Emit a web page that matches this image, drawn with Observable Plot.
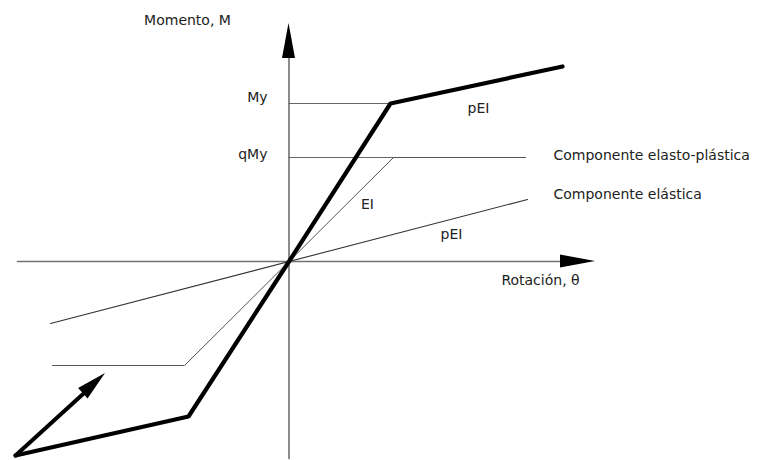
<!DOCTYPE html>
<html><head><meta charset="utf-8">
<script src="https://cdn.jsdelivr.net/npm/d3@7"></script>
<script src="https://cdn.jsdelivr.net/npm/@observablehq/plot@0.6"></script>
<style>body{margin:0;background:#fff}</style>
</head><body><div id="chart"></div>
<script>
// ---- data (rotation θ, moment M; origin at 0,0) ----
const totalTheta = [-273.5, -100.5, 0, 101.5, 273.5];
const totalMoment = [-194, -155, 0, 158, 195];
const elastoTheta = [-236.5, -104.5, 0, 104.5, 236.5];
const elastoMoment = [-104, -104, 0, 104, 104];
const elasticTheta = [-238.5, 238.5];
const elasticMoment = [-62, 62];
const myTheta = [0, 101.5];
const myMoment = [158, 158];
const qmyTheta = [0, 236.5];
const qmyMoment = [104, 104];
const axisNames = ["x", "y"];
const axisFrom = [[-271.5, 0], [0, -197]];
const axisTo = [[306.5, 0], [0, 238]];
const loadFrom = [-273.5, -194];
const loadTo = [-183.5, -112];

const labelText = ["Momento, M", "My", "qMy", "pEI", "EI", "pEI", "Rotación, θ", "Componente elasto-plástica", "Componente elástica"];
const labelTheta = [-101.5, -21.5, -21.5, 189.5, 78.5, 162.5, 251.5, 264.5, 264.5];
const labelMoment = [241, 164, 107, 153, 57, 27, -19, 106, 67];
const labelAnchor = ["middle", "end", "end", "middle", "middle", "middle", "middle", "start", "start"];

// ---- build tables ----
const pts = (xs, ys) => xs.map((x, i) => ({x, y: ys[i]}));
function head(id, from, to, len, half) {
  const dx = to[0] - from[0], dy = to[1] - from[1];
  const d = Math.hypot(dx, dy), ux = dx / d, uy = dy / d;
  const bx = to[0] - ux * len, by = to[1] - uy * len;
  const nx = -uy, ny = ux;
  return {
    shaft: [{id, x: from[0], y: from[1]}, {id, x: bx, y: by}],
    tri: [
      {id, x1: bx + nx * half, y1: by + ny * half, x2: bx - nx * half, y2: by - ny * half},
      {id, x1: to[0], y1: to[1], x2: to[0], y2: to[1]}
    ]
  };
}
const axisHeads = axisNames.map((n, i) => head(n, axisFrom[i], axisTo[i], 35, 6.5));
const loadHead = head("load", loadFrom, loadTo, 30, 7);
const labels = labelText.map((t, i) => ({t, x: labelTheta[i], y: labelMoment[i], a: labelAnchor[i]}));

const font = {fontFamily: "DejaVu Sans", fontSize: 14, fill: "#222"};
const textMark = a => Plot.text(labels.filter(d => d.a === a), {x: "x", y: "y", text: "t", textAnchor: a, ...font});

const chart = Plot.plot({
  width: 761, height: 460,
  margin: 0,
  x: {domain: [-288.5, 472.5], axis: null},
  y: {domain: [-199, 261], axis: null},
  style: {background: "#fff"},
  marks: [
    ...axisHeads.map(h => Plot.line(h.shaft, {x: "x", y: "y", stroke: "#707070", strokeWidth: 1.6})),
    ...axisHeads.map(h => Plot.area(h.tri, {x1: "x1", y1: "y1", x2: "x2", y2: "y2", fill: "#000"})),
    Plot.line(pts(myTheta, myMoment), {x: "x", y: "y", stroke: "#666", strokeWidth: 1.1}),
    Plot.line(pts(qmyTheta, qmyMoment), {x: "x", y: "y", stroke: "#666", strokeWidth: 1.1}),
    Plot.line(pts(elasticTheta, elasticMoment), {x: "x", y: "y", stroke: "#333", strokeWidth: 1.1}),
    Plot.line(pts(elastoTheta, elastoMoment), {x: "x", y: "y", stroke: "#555", strokeWidth: 1}),
    Plot.line(pts(totalTheta, totalMoment), {x: "x", y: "y", stroke: "#000", strokeWidth: 4.2, strokeLinejoin: "miter"}),
    Plot.line(loadHead.shaft, {x: "x", y: "y", stroke: "#000", strokeWidth: 4}),
    Plot.area(loadHead.tri, {x1: "x1", y1: "y1", x2: "x2", y2: "y2", fill: "#000"}),
    textMark("middle"), textMark("end"), textMark("start")
  ]
});
document.getElementById("chart").appendChild(chart);
</script>
</body></html>
